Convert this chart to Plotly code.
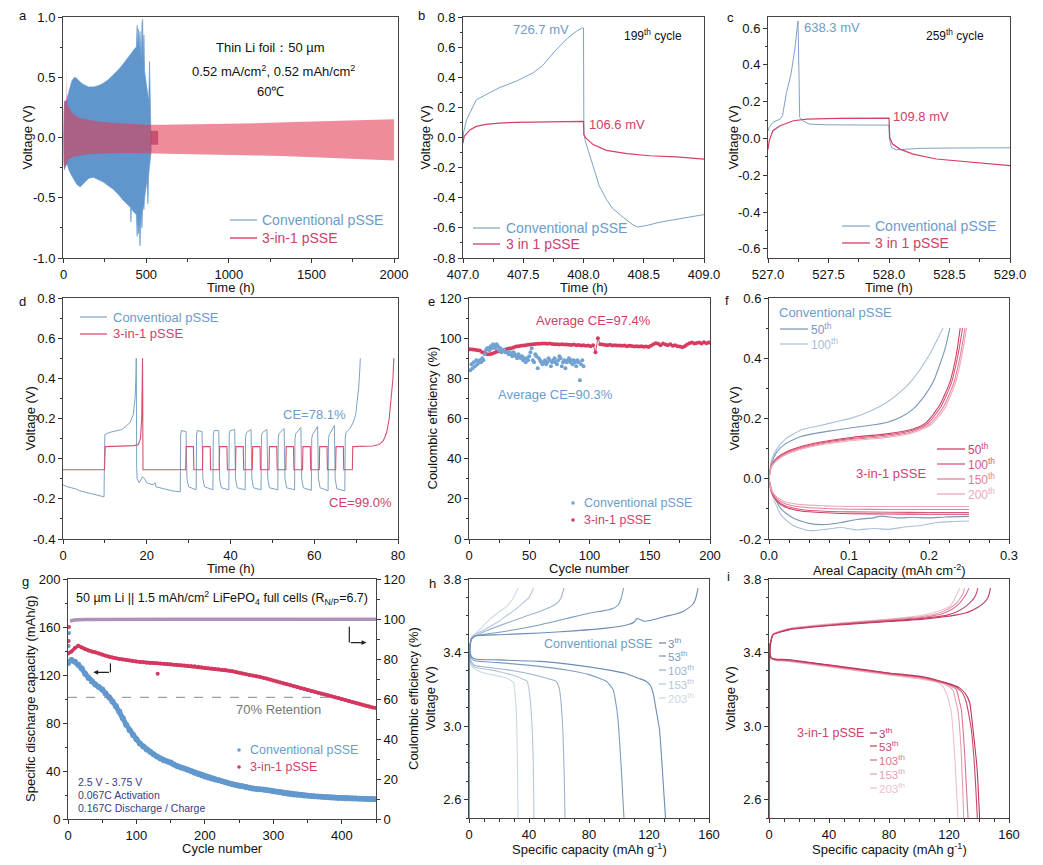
import plotly.graph_objects as go

W, H = 1043, 865
FONT = "Arial, 'Liberation Sans', Helvetica, sans-serif"

BLUE_TXT = "#6b9ccb"
RED_TXT = "#d1406a"
BLUE_LN = "#7ea2c8"
RED_LN = "#d43f66"

# ---------------- panel a : envelopes of voltage profiles ----------------
a_conv_t = [0, 2, 5, 10, 20, 35, 50, 65, 80, 100,
            120, 150, 180, 210, 240, 270, 300, 330, 360, 390,
            405, 407, 410, 425, 440, 445, 448, 452, 458, 462,
            466, 470, 474, 478, 482, 486, 490, 495, 500, 505,
            510, 515, 520, 524, 527, 530]
a_conv_hi = [0.0, 0.2, 0.3, 0.3, 0.32, 0.4, 0.47, 0.5, 0.49, 0.46,
             0.44, 0.42, 0.42, 0.43, 0.45, 0.48, 0.52, 0.56, 0.61, 0.66,
             0.69, 0.69, 0.7, 0.73, 0.75, 0.93, 0.72, 0.9, 0.73, 0.88,
             0.7, 0.65, 0.95, 0.98, 0.6, 0.85, 0.55, 0.5, 0.45, 0.4,
             0.35, 0.3, 0.63, 0.3, 0.2, 0.1]
a_conv_lo = [0.0, -0.2, -0.27, -0.24, -0.22, -0.28, -0.32, -0.36, -0.39, -0.41,
             -0.38, -0.34, -0.33, -0.35, -0.37, -0.4, -0.43, -0.47, -0.52, -0.56,
             -0.58, -0.7, -0.59, -0.62, -0.64, -0.82, -0.66, -0.8, -0.68, -0.9,
             -0.7, -0.6, -0.75, -0.6, -0.55, -0.6, -0.5, -0.45, -0.4, -0.35,
             -0.55, -0.3, -0.25, -0.2, -0.15, -0.1]
a_new_t = [0, 5, 14, 16, 18, 30, 60, 100, 150, 200, 300, 400, 500, 600, 800,
           1000, 1200, 1400, 1600, 1800, 2000]
a_new_hi = [0.22, 0.3, 0.3, 0.6, 0.3, 0.25, 0.19, 0.16, 0.145, 0.135, 0.12, 0.112,
            0.105, 0.105, 0.108, 0.112, 0.12, 0.128, 0.137, 0.145, 0.152]
a_new_lo = [-0.22, -0.26, -0.23, -0.22, -0.21, -0.18, -0.16, -0.15, -0.14, -0.135,
            -0.13, -0.128, -0.128, -0.132, -0.138, -0.144, -0.15, -0.158, -0.167,
            -0.178, -0.19]
a_dark_t = [525, 572]
a_dark_hi = [0.055, 0.055]
a_dark_lo = [-0.06, -0.06]

# ---------------- panel b ----------------
b_conv = [(407.0, -0.03), (407.004, 0.03), (407.03, 0.118), (407.11, 0.25), (407.19, 0.284),
          (407.3, 0.33), (407.44, 0.373), (407.58, 0.428), (407.66, 0.477), (407.77, 0.58),
          (407.86, 0.654), (407.94, 0.705), (407.99, 0.727), (408.0, 0.727), (408.003, 0.02),
          (408.02, -0.037), (408.08, -0.19), (408.13, -0.32), (408.19, -0.41), (408.24, -0.47),
          (408.33, -0.53), (408.41, -0.58), (408.45, -0.594), (408.52, -0.585), (408.63, -0.563),
          (408.77, -0.546), (408.88, -0.528), (409.0, -0.512)]
b_new = [(407.0, -0.037), (407.01, 0.008), (407.06, 0.052), (407.11, 0.074), (407.19, 0.087),
         (407.3, 0.096), (407.44, 0.1), (407.72, 0.104), (408.0, 0.1066), (408.003, 0.02),
         (408.02, -0.003), (408.08, -0.047), (408.19, -0.085), (408.36, -0.107),
         (408.55, -0.121), (408.77, -0.129), (409.0, -0.143)]

# ---------------- panel c ----------------
c_conv = [(527.0, 0.04), (527.01, 0.06), (527.04, 0.087), (527.1, 0.105), (527.12, 0.123),
          (527.15, 0.24), (527.19, 0.35), (527.22, 0.476), (527.24, 0.594), (527.248, 0.638),
          (527.256, 0.35), (527.262, 0.114), (527.29, 0.096), (527.34, 0.078), (527.48, 0.074),
          (528.0, 0.072), (528.003, 0.0), (528.02, -0.049), (528.06, -0.062), (528.14, -0.058),
          (528.26, -0.054), (528.53, -0.052), (529.0, -0.051)]
c_new = [(527.0, -0.06), (527.01, -0.013), (527.04, 0.042), (527.1, 0.069), (527.21, 0.096),
         (527.32, 0.105), (527.57, 0.109), (528.0, 0.1098), (528.006, 0.005), (528.03, -0.031),
         (528.09, -0.058), (528.2, -0.085), (528.39, -0.112), (528.67, -0.13), (529.0, -0.148)]

# ---------------- panel d ----------------
d_conv = [(0, -0.13), (1, -0.14), (2, -0.145), (3, -0.15), (4, -0.16), (5, -0.165), (6, -0.17),
          (7, -0.175), (8, -0.18), (9, -0.185), (9.8, -0.19), (9.9, 0.0), (10.0, 0.12), (11, 0.13),
          (12, 0.135), (13, 0.14), (14, 0.145), (15, 0.16), (16, 0.18), (16.8, 0.22), (17.2, 0.3),
          (17.4, 0.4), (17.5, 0.5), (17.6, -0.05), (17.7, -0.1), (18.2, -0.12), (19, -0.09),
          (19.5, -0.1), (20, -0.12), (21.5, -0.13), (22, -0.12), (22.2, -0.14), (24, -0.15),
          (26, -0.16), (28.0, -0.165),
          (28.1, 0.12), (28.3, 0.14), (29.4, 0.135), (29.5, 0.0), (29.6, -0.1), (30.0, -0.14), (31.8, -0.155),
          (31.9, 0.12), (32.1, 0.14), (33.2, 0.135), (33.3, 0.0), (33.4, -0.1), (33.8, -0.14), (35.8, -0.155),
          (35.9, 0.12), (36.1, 0.14), (37.2, 0.14), (37.3, 0.0), (37.4, -0.1), (37.8, -0.145), (39.6, -0.155),
          (39.7, 0.12), (39.9, 0.14), (41.0, 0.145), (41.1, 0.0), (41.2, -0.1), (41.6, -0.145), (43.5, -0.155),
          (43.6, 0.11), (43.8, 0.13), (44.9, 0.145), (45.0, 0.0), (45.1, -0.1), (45.5, -0.145), (47.3, -0.155),
          (47.4, 0.11), (47.6, 0.13), (48.7, 0.145), (48.8, 0.0), (48.9, -0.1), (49.3, -0.145), (51.3, -0.155),
          (51.4, 0.1), (51.6, 0.125), (52.8, 0.15), (52.9, 0.0), (53.0, -0.1), (53.4, -0.145), (55.3, -0.155),
          (55.4, 0.1), (55.6, 0.125), (56.8, 0.155), (56.9, 0.0), (57.0, -0.1), (57.4, -0.145), (59.3, -0.158),
          (59.4, 0.1), (59.6, 0.12), (60.8, 0.16), (60.9, 0.0), (61.0, -0.1), (61.4, -0.145), (63.3, -0.16),
          (63.4, 0.1), (63.6, 0.12), (64.8, 0.165), (64.9, 0.0), (65.0, -0.1), (65.4, -0.15), (67.3, -0.16),
          (67.4, 0.1), (67.6, 0.13), (68.5, 0.15), (69.3, 0.18), (69.9, 0.22), (70.3, 0.28), (70.6, 0.35),
          (70.9, 0.45), (71.0, 0.5)]
d_new = [(0, -0.055), (9.9, -0.055), (10.0, 0.0), (10.1, 0.06), (17.0, 0.065), (18.0, 0.07),
         (18.5, 0.1), (18.8, 0.2), (19.0, 0.5), (19.1, -0.055),
         (29.3, -0.055), (29.4, 0.06), (31.15, 0.06), (31.25, -0.055),
         (33.3, -0.055), (33.4, 0.06), (35.15, 0.06), (35.25, -0.055),
         (37.3, -0.055), (37.4, 0.06), (39.15, 0.06), (39.25, -0.055),
         (41.2, -0.055), (41.3, 0.06), (43.05, 0.06), (43.15, -0.055),
         (45.2, -0.055), (45.3, 0.06), (47.05, 0.06), (47.15, -0.055),
         (49.2, -0.055), (49.3, 0.06), (51.05, 0.06), (51.15, -0.055),
         (53.2, -0.055), (53.3, 0.06), (55.05, 0.06), (55.15, -0.055),
         (57.2, -0.055), (57.3, 0.06), (59.05, 0.06), (59.15, -0.055),
         (61.2, -0.055), (61.3, 0.06), (63.05, 0.06), (63.15, -0.055),
         (65.1, -0.055), (65.2, 0.06), (66.95, 0.06), (67.05, -0.055),
         (69.1, -0.055), (69.2, 0.06), (74.0, 0.063), (75.5, 0.07), (76.5, 0.09), (77.3, 0.13),
         (77.9, 0.2), (78.4, 0.3), (78.8, 0.4), (79.0, 0.5)]

# ---------------- panel e : coulombic efficiency ----------------
e_new_cycle = list(range(1, 200, 2))
e_new_ce = [94.5, 94.3, 94.2, 94.0, 93.8, 93.0, 92.5, 92.0, 92.0, 92.3,
            92.8, 93.2, 93.5, 93.8, 94.0, 94.5, 94.8, 95.0, 95.3, 95.8,
            96.0, 96.2, 96.4, 96.5, 96.7, 96.8, 97.0, 97.1, 97.2, 97.2,
            97.3, 97.3, 97.2, 97.3, 97.1, 97.0, 97.0, 96.9, 97.0, 96.8,
            96.9, 96.7, 96.6, 96.8, 96.5, 96.6, 96.4, 96.5, 96.2, 96.3,
            96.0, 96.5, 93.0, 100.0, 97.0, 96.8, 96.6, 96.5, 96.7, 96.4,
            96.5, 96.3, 96.4, 96.2, 96.3, 96.0, 96.2, 96.1, 95.9, 96.0,
            95.8, 96.0, 95.7, 95.9, 95.6, 96.2, 97.0, 97.5, 97.2, 96.5,
            97.3, 96.8, 96.5, 97.0, 96.2, 96.5, 96.0, 95.8, 95.5, 96.0,
            96.8, 97.5, 97.8, 97.4, 97.6, 97.8, 97.3, 98.0, 97.5, 97.8]
e_conv_cycle = list(range(1, 96))
e_conv_ce = [84, 87, 85, 88, 86, 89, 87, 88, 89, 88,
             90, 89, 92, 94, 95, 95, 94, 96, 95, 97,
             96, 95, 97, 96, 94, 95, 93, 94, 94, 93,
             93, 93, 92, 93, 92, 91, 93, 92, 91, 90,
             92, 91, 90, 91, 89, 90, 88, 90, 89, 91,
             93, 95, 89, 88, 92, 91, 85, 90, 89, 88,
             87, 88, 89, 87, 88, 90, 89, 86, 88, 89,
             90, 88, 87, 89, 91, 90, 86, 88, 89, 85,
             88, 89, 90, 88, 89, 87, 89, 88, 86, 89,
             88, 79, 87, 89, 86]

# ---------------- panel f : areal capacity curves ----------------
f_conv_up = [
    [(0, 0), (0.003, 0.05), (0.01, 0.09), (0.02, 0.115), (0.04, 0.14), (0.063, 0.153), (0.085, 0.162),
     (0.105, 0.17), (0.125, 0.177), (0.147, 0.187), (0.165, 0.205), (0.18, 0.231), (0.193, 0.27),
     (0.205, 0.32), (0.215, 0.39), (0.221, 0.44), (0.226, 0.5)],
    [(0, 0), (0.003, 0.06), (0.01, 0.1), (0.022, 0.135), (0.0425, 0.164), (0.063, 0.176), (0.085, 0.19),
     (0.105, 0.203), (0.127, 0.225), (0.147, 0.253), (0.165, 0.29), (0.18, 0.331), (0.2, 0.409),
     (0.21, 0.46), (0.2175, 0.5)]]
f_conv_dn = [
    [(0, 0), (0.005, -0.05), (0.015, -0.1), (0.03, -0.13), (0.05, -0.148), (0.07, -0.152), (0.09, -0.145),
     (0.11, -0.135), (0.13, -0.13), (0.14, -0.124), (0.16, -0.13), (0.18, -0.128), (0.2, -0.13),
     (0.22, -0.127), (0.25, -0.125)],
    [(0, 0), (0.005, -0.06), (0.015, -0.12), (0.03, -0.155), (0.05, -0.172), (0.07, -0.168),
     (0.09, -0.162), (0.11, -0.17), (0.13, -0.165), (0.15, -0.168), (0.17, -0.16), (0.19, -0.155),
     (0.21, -0.145), (0.23, -0.142), (0.25, -0.14)]]
f_new_up = [
    [(0, 0), (0.003, 0.045), (0.01, 0.07), (0.022, 0.09), (0.04, 0.107), (0.063, 0.121), (0.105, 0.138),
     (0.147, 0.149), (0.18, 0.165), (0.197, 0.188), (0.213, 0.243), (0.226, 0.32), (0.234, 0.41),
     (0.239, 0.5)],
    [(0, 0), (0.003, 0.043), (0.01, 0.067), (0.022, 0.087), (0.04, 0.104), (0.063, 0.118), (0.105, 0.134),
     (0.147, 0.145), (0.18, 0.161), (0.199, 0.185), (0.215, 0.24), (0.228, 0.318), (0.236, 0.408),
     (0.242, 0.5)],
    [(0, 0), (0.003, 0.041), (0.01, 0.064), (0.022, 0.084), (0.04, 0.101), (0.063, 0.115), (0.105, 0.131),
     (0.147, 0.141), (0.18, 0.157), (0.201, 0.182), (0.218, 0.238), (0.231, 0.318), (0.239, 0.408),
     (0.245, 0.5)],
    [(0, 0), (0.003, 0.039), (0.01, 0.061), (0.022, 0.081), (0.04, 0.098), (0.063, 0.112), (0.105, 0.127),
     (0.147, 0.137), (0.18, 0.153), (0.203, 0.18), (0.22, 0.236), (0.233, 0.318), (0.241, 0.408),
     (0.247, 0.5)]]
f_new_dn = [
    [(0, 0), (0.003, -0.045), (0.01, -0.075), (0.02, -0.094), (0.04, -0.107), (0.07, -0.113),
     (0.1, -0.116), (0.15, -0.117), (0.2, -0.118), (0.25, -0.118)],
    [(0, 0), (0.003, -0.043), (0.01, -0.072), (0.02, -0.09), (0.04, -0.102), (0.07, -0.108),
     (0.1, -0.11), (0.15, -0.111), (0.2, -0.112), (0.25, -0.112)],
    [(0, 0), (0.003, -0.04), (0.01, -0.066), (0.02, -0.083), (0.04, -0.094), (0.07, -0.099),
     (0.1, -0.101), (0.15, -0.102), (0.2, -0.102), (0.25, -0.102)],
    [(0, 0), (0.003, -0.037), (0.01, -0.061), (0.02, -0.076), (0.04, -0.086), (0.07, -0.09),
     (0.1, -0.092), (0.15, -0.092), (0.2, -0.092), (0.25, -0.092)]]
f_conv_labels = ["50<sup>th</sup>", "100<sup>th</sup>"]
f_new_labels = ["50<sup>th</sup>", "100<sup>th</sup>", "150<sup>th</sup>", "200<sup>th</sup>"]

# ---------------- panel g : full-cell cycling ----------------
g_cycle = list(range(0, 451, 5))
g_new_cap = [138, 139.5, 142.5, 144.4, 143, 141.5, 140.5, 139.6, 139, 138,
             137, 136, 135.3, 134.6, 134, 133.4, 132.9, 132.5, 132, 131.6,
             131.2, 130.9, 130.6, 130.3, 130.1, 129.9, 129.7, 129.6, 129.4, 129.1,
             128.9, 128.6, 128.4, 128.1, 127.9, 127.7, 127.5, 127.2, 126.8, 126.5,
             126.1, 125.7, 125.4, 125, 124.7, 124.4, 124.1, 123.6, 123.1, 122.4,
             121.8, 121.2, 120.6, 120, 119.5, 119, 118.6, 117.8, 117, 116.2,
             115.4, 114.6, 113.8, 113, 112.2, 111.4, 110.6, 109.8, 109, 108.3,
             107.5, 106.7, 106, 105.2, 104.4, 103.7, 103, 102.3, 101.5, 100.8,
             100, 99.2, 98.4, 97.6, 96.8, 96, 95.2, 94.4, 93.7, 93, 92.5]
g_conv_cap = [130, 132.5, 131, 128.5, 125.5, 121, 117.5, 114.5, 112, 110,
              108, 104.5, 101.5, 98, 94, 89.5, 84, 78.5, 74, 70,
              66.5, 63, 60.5, 58, 56, 54, 52, 50.5, 49, 48,
              47, 45.5, 44, 43, 42, 41, 39.8, 38.5, 37.5, 36.5,
              35.5, 34.6, 33.8, 33, 32.2, 31.4, 30.6, 29.8, 29, 28.4,
              27.8, 27.2, 26.6, 26, 25.5, 25.1, 24.8, 24.5, 24.2, 23.8,
              23.2, 22.7, 22.2, 21.7, 21.2, 20.8, 20.5, 20.2, 19.9, 19.6,
              19.3, 19.1, 18.9, 18.7, 18.5, 18.3, 18.1, 17.9, 17.8, 17.6,
              17.5, 17.3, 17.2, 17.1, 17, 16.9, 16.8, 16.7, 16.6, 16.6, 16.5]
g_new_outlier_cycle = [131]
g_new_outlier_cap = [121]
g_ce_cycle = [3, 10, 25, 50, 100, 150, 200, 250, 300, 350, 400, 450]
g_ce_conv = [99.2, 99.6, 99.7, 99.8, 99.8, 99.9, 99.9, 99.9, 99.8, 99.8, 99.8, 99.8]
g_ce_new = [99.0, 99.5, 99.7, 99.8, 99.9, 99.9, 99.9, 99.9, 99.9, 99.9, 99.9, 99.9]
g_ce_early_cycle = [1, 1.5]
g_ce_early_conv = [86.5, 93]
g_ce_early_new = [89, 96]

# ---------------- panels h, i : charge / discharge curves ----------------
hi_labels = ["3<sup>th</sup>", "53<sup>th</sup>", "103<sup>th</sup>", "153<sup>th</sup>", "203<sup>th</sup>"]
h_charge = [
    [(0, 2.5), (0.2, 3.3), (0.6, 3.42), (1.5, 3.47), (4, 3.49), (20, 3.497), (47, 3.506), (70, 3.518),
     (91.5, 3.533), (105, 3.55), (110, 3.565), (112, 3.585), (114, 3.58), (117, 3.57), (122.7, 3.578),
     (130, 3.595), (138, 3.61), (143, 3.625), (146, 3.64), (149, 3.66), (151, 3.69), (152.7, 3.75)],
    [(0, 2.5), (0.2, 3.3), (0.6, 3.42), (1.5, 3.47), (4, 3.49), (20, 3.51), (47, 3.55), (65, 3.585),
     (80, 3.614), (90, 3.628), (96, 3.64), (99.5, 3.66), (101.5, 3.695), (103, 3.75)],
    [(0, 2.5), (0.2, 3.3), (0.6, 3.42), (1.5, 3.475), (4, 3.49), (12, 3.52), (25, 3.56), (37, 3.595),
     (47, 3.623), (55, 3.65), (59, 3.67), (61.5, 3.7), (63.3, 3.75)],
    [(0, 2.5), (0.2, 3.3), (0.6, 3.42), (1.5, 3.48), (4, 3.5), (8, 3.515), (13.8, 3.54), (20, 3.57),
     (25, 3.6), (31, 3.635), (36, 3.67), (40, 3.7), (43, 3.75)],
    [(0, 2.5), (0.2, 3.3), (0.6, 3.42), (1.5, 3.48), (4, 3.5), (9, 3.54), (13.8, 3.58), (19, 3.615),
     (25, 3.65), (29, 3.69), (32.7, 3.75)]]
h_discharge = [
    [(0, 3.45), (0.5, 3.41), (1.5, 3.38), (4, 3.365), (20, 3.36), (47, 3.352), (70, 3.333), (91.5, 3.307),
     (105, 3.285), (113, 3.26), (118, 3.244), (121, 3.22), (122.7, 3.18), (124.5, 3.1), (127, 2.98),
     (129, 2.75), (131, 2.5)],
    [(0, 3.45), (0.5, 3.4), (1.5, 3.37), (4, 3.355), (20, 3.345), (47, 3.325), (65, 3.305), (80, 3.28),
     (91.5, 3.244), (96, 3.2), (98, 3.12), (99.3, 3.04), (101.3, 2.8), (103.3, 2.5)],
    [(0, 3.44), (0.5, 3.39), (1.5, 3.35), (4, 3.33), (12, 3.32), (25, 3.307), (37, 3.29), (47, 3.271),
     (54, 3.255), (58, 3.244), (60, 3.21), (61, 3.16), (62.7, 2.95), (63.5, 2.72), (64, 2.5)],
    [(0, 3.43), (0.5, 3.38), (1.5, 3.34), (4, 3.32), (13.8, 3.307), (23, 3.29), (31.5, 3.271),
     (36, 3.255), (38.7, 3.244), (40, 3.2), (41, 3.13), (42.7, 2.86), (43.3, 2.5)],
    [(0, 3.42), (0.5, 3.37), (1.5, 3.33), (4, 3.31), (9.3, 3.29), (18, 3.275), (25, 3.262),
     (28.5, 3.245), (29.8, 3.235), (30.8, 3.16), (31.5, 3.09), (32.2, 2.85), (32.7, 2.5)]]
i_charge = [
    [(0, 2.5), (0.2, 3.3), (0.6, 3.42), (1.5, 3.47), (2.7, 3.497), (13.8, 3.524), (47, 3.55), (80, 3.569),
     (102.7, 3.582), (118, 3.596), (125, 3.605), (131, 3.615), (136, 3.632), (141, 3.655), (145, 3.686),
     (146.7, 3.715), (147.6, 3.75)],
    [(0, 2.5), (0.2, 3.3), (0.6, 3.42), (1.5, 3.47), (2.7, 3.497), (13.8, 3.526), (47, 3.553), (80, 3.572),
     (102.7, 3.586), (118, 3.602), (126, 3.625), (131.6, 3.654), (135, 3.68), (137, 3.7), (138.4, 3.725),
     (139.3, 3.75)],
    [(0, 2.5), (0.2, 3.3), (0.6, 3.42), (1.5, 3.47), (2.7, 3.498), (13.8, 3.528), (47, 3.556), (80, 3.576),
     (102.7, 3.592), (115, 3.61), (122, 3.635), (127, 3.668), (130, 3.7), (131.6, 3.72), (133.3, 3.75)],
    [(0, 2.5), (0.2, 3.3), (0.6, 3.42), (1.5, 3.47), (2.7, 3.5), (13.8, 3.53), (47, 3.558), (80, 3.58),
     (102.7, 3.597), (113, 3.615), (120, 3.64), (125, 3.668), (127.5, 3.695), (129.3, 3.72), (130.4, 3.75)],
    [(0, 2.5), (0.2, 3.3), (0.6, 3.42), (1.5, 3.47), (2.7, 3.5), (13.8, 3.532), (47, 3.56), (80, 3.582),
     (100, 3.6), (110, 3.618), (116, 3.635), (120.4, 3.65), (123, 3.68), (125, 3.713), (127.1, 3.75)]]
i_discharge = [
    [(0, 3.45), (0.5, 3.4), (1.5, 3.37), (4, 3.365), (13.8, 3.361), (47, 3.325), (80, 3.289),
     (102.7, 3.268), (118.2, 3.235), (127, 3.208), (131, 3.175), (133.8, 3.127), (136, 2.98),
     (138.7, 2.77), (140.4, 2.5)],
    [(0, 3.45), (0.5, 3.4), (1.5, 3.37), (4, 3.363), (13.8, 3.359), (47, 3.323), (80, 3.287),
     (102.7, 3.266), (118.2, 3.233), (125, 3.21), (129, 3.18), (131.6, 3.127), (134.9, 2.98),
     (137.1, 2.77), (138.9, 2.5)],
    [(0, 3.45), (0.5, 3.4), (1.5, 3.37), (4, 3.361), (13.8, 3.356), (47, 3.32), (80, 3.284),
     (102.7, 3.262), (118.2, 3.23), (122, 3.215), (124.9, 3.2), (126.5, 3.15), (128.2, 3.09),
     (130.4, 2.856), (132.7, 2.5)],
    [(0, 3.45), (0.5, 3.4), (1.5, 3.37), (4, 3.359), (13.8, 3.353), (47, 3.317), (80, 3.281),
     (102.7, 3.258), (116, 3.232), (120, 3.215), (122.7, 3.195), (124.4, 3.14), (126, 3.08),
     (128.2, 2.85), (129.8, 2.5)],
    [(0, 3.45), (0.5, 3.4), (1.5, 3.37), (4, 3.357), (13.8, 3.35), (47, 3.314), (80, 3.278),
     (100, 3.256), (112, 3.238), (116, 3.215), (118.2, 3.18), (120, 3.13), (121.6, 3.07),
     (123.8, 2.84), (126, 2.5)]]
h_colors = ["#6b8db6", "#7d9cc1", "#9cb4d0", "#b6c7dc", "#cdd8e6"]
i_colors = ["#c2355c", "#c9496c", "#d9788f", "#e6a0b1", "#efc0cb"]

# ======================================================================
fig = go.Figure()
shapes, annotations = [], []


def P(x, y):
    return x / W, 1 - y / H


def text_px(x, y, text, color="#111", size=13, xanchor="left", angle=0):
    xx, yy = P(x, y)
    annotations.append(dict(x=xx, y=yy, xref="paper", yref="paper", text=text, showarrow=False,
                            xanchor=xanchor, yanchor="middle", textangle=angle, borderpad=0,
                            font=dict(family=FONT, size=size, color=color)))


def line_px(x0, x1, y, color, width=1.2):
    a0, b0 = P(x0, y)
    a1, _ = P(x1, y)
    shapes.append(dict(type="line", xref="paper", yref="paper", x0=a0, x1=a1, y0=b0, y1=b0,
                       line=dict(color=color, width=width)))


def dot_px(cx, cy, r, color):
    shapes.append(dict(type="circle", xref="paper", yref="paper", x0=(cx - r) / W, x1=(cx + r) / W,
                       y0=1 - (cy + r) / H, y1=1 - (cy - r) / H, fillcolor=color, line=dict(width=0)))


def tk(lo, hi, step, nd):
    n = int(round((hi - lo) / step))
    vals = [round(lo + i * step, 6) for i in range(n + 1)]
    txt = [f"{(0.0 if abs(v) < 1e-9 else v):.{nd}f}" for v in vals]
    return vals, txt


def axis(dom_px, rng, ticks, minor, horizontal=True, **extra):
    if horizontal:
        dom = [dom_px[0] / W, dom_px[1] / W]
    else:
        dom = [1 - dom_px[1] / H, 1 - dom_px[0] / H]
    d = dict(domain=dom, range=rng, tickmode="array", tickvals=ticks[0], ticktext=ticks[1],
             ticks="outside", ticklen=4, tickwidth=1, tickcolor="#333", automargin=False,
             minor=dict(dtick=minor, tick0=0, ticks="outside", ticklen=2.5, tickcolor="#333"),
             showline=True, linecolor="#444", linewidth=1, mirror=True, showgrid=False,
             zeroline=False, tickfont=dict(family=FONT, size=13, color="#111"))
    d.update(extra)
    return d


layout = {}
panels = [
    # n, xpx, ypx, xrange, yrange, xticks, yticks, xminor, yminor, xtitle, ytitle, ytitle_x
    (1, (63, 398), (17, 258), [-4, 2024], [-1, 1], tk(0, 2000, 500, 0), tk(-1, 1, 0.5, 1), 250, 0.25,
     "Time (h)", "Voltage (V)", 27),
    (2, (463, 704), (17, 258), [407, 409], [-0.8, 0.8], tk(407, 409, 0.5, 1), tk(-0.8, 0.8, 0.2, 1), 0.25, 0.1,
     "Time (h)", "Voltage (V)", 425),
    (3, (768, 1010), (17, 258), [527, 529], [-0.65, 0.66], tk(527, 529, 0.5, 1), tk(-0.6, 0.6, 0.2, 1), 0.25,
     0.1, "Time (h)", "Voltage (V)", 733),
    (4, (63, 398), (298, 539), [0, 80], [-0.4, 0.8], tk(0, 80, 20, 0), tk(-0.4, 0.8, 0.2, 1), 10, 0.1,
     "Time (h)", "Voltage (V)", 30),
    (5, (469, 710), (298, 539), [0, 200], [0, 120], tk(0, 200, 50, 0), tk(0, 120, 20, 0), 25, 10,
     "Cycle number", "Coulombic efficiency (%)", 432),
    (6, (769, 1009), (298, 539), [0, 0.3], [-0.2, 0.6], tk(0, 0.3, 0.1, 1), tk(-0.2, 0.6, 0.2, 1), 0.025, 0.1,
     "Areal Capacity (mAh cm<sup>-2</sup>)", "Voltage (V)", 734),
    (7, (68, 376), (579, 819), [0, 450], [0, 200], tk(0, 400, 100, 0), tk(0, 200, 40, 0), 50, 20,
     "Cycle number", "Specific discharge capacity (mAh/g)", 30),
    (8, (469, 709), (579, 818), [0, 160], [2.5, 3.8], tk(0, 160, 40, 0), tk(2.6, 3.8, 0.4, 1), 10, 0.1,
     "Specific capacity (mAh g<sup>-1</sup>)", "Voltage (V)", 430),
    (9, (769, 1009), (579, 818), [0, 160], [2.5, 3.8], tk(0, 160, 40, 0), tk(2.6, 3.8, 0.4, 1), 10, 0.1,
     "Specific capacity (mAh g<sup>-1</sup>)", "Voltage (V)", 730),
]
for n, xpx, ypx, xr, yr, xt, yt, xm, ym, xtitle, ytitle, ytx in panels:
    k = "" if n == 1 else str(n)
    layout["xaxis" + k] = axis(xpx, xr, xt, xm, True, anchor="y" + k)
    layout["yaxis" + k] = axis(ypx, yr, yt, ym, False, anchor="x" + k)
    # axis titles as positioned text
    off = 31 if "<sup>" in xtitle else 29
    text_px((xpx[0] + xpx[1]) / 2, ypx[1] + off, xtitle, "#111", 13, "center")
    text_px(ytx, (ypx[0] + ypx[1]) / 2, ytitle, "#111", 13, "center", angle=-90)

# right axis for panel g
layout["yaxis10"] = axis((579, 819), [0, 120], tk(0, 120, 20, 0), 10, False,
                         overlaying="y7", side="right", anchor="x7", mirror=False)
text_px(413, 699, "Coulombic efficiency (%)", "#111", 13, "center", angle=-90)


def xy(pairs):
    return [p[0] for p in pairs], [p[1] for p in pairs]


# ---- a
fig.add_trace(go.Scatter(x=a_conv_t + a_conv_t[::-1], y=a_conv_hi + a_conv_lo[::-1], fill="toself",
                         fillcolor="#6096cb", line=dict(color="#6096cb", width=0.6), mode="lines",
                         xaxis="x", yaxis="y", hoverinfo="skip"))
fig.add_trace(go.Scatter(x=a_new_t + a_new_t[::-1], y=a_new_hi + a_new_lo[::-1], fill="toself",
                         fillcolor="rgba(226,57,84,0.58)", line=dict(width=0), mode="lines",
                         xaxis="x", yaxis="y", hoverinfo="skip"))
fig.add_trace(go.Scatter(x=a_dark_t + a_dark_t[::-1], y=a_dark_hi + a_dark_lo[::-1], fill="toself",
                         fillcolor="rgba(190,60,100,0.75)", line=dict(width=0), mode="lines",
                         xaxis="x", yaxis="y", hoverinfo="skip"))

# ---- b, c
for data, col, w, ax in [(b_conv, BLUE_LN, 1.0, "2"), (b_new, RED_LN, 1.2, "2"),
                         (c_conv, BLUE_LN, 1.0, "3"), (c_new, RED_LN, 1.2, "3")]:
    x, y = xy(data)
    fig.add_trace(go.Scatter(x=x, y=y, mode="lines", line=dict(color=col, width=w),
                             xaxis="x" + ax, yaxis="y" + ax))

# ---- d
x, y = xy(d_conv)
fig.add_trace(go.Scatter(x=x, y=y, mode="lines", line=dict(color="#7ea2c5", width=1), xaxis="x4", yaxis="y4"))
x, y = xy(d_new)
fig.add_trace(go.Scatter(x=x, y=y, mode="lines", line=dict(color="#d9506f", width=1.1), xaxis="x4", yaxis="y4"))

# ---- e
fig.add_trace(go.Scatter(x=e_new_cycle, y=e_new_ce, mode="lines+markers",
                         line=dict(color="#dc4c6c", width=1), marker=dict(color="#d93a60", size=4),
                         xaxis="x5", yaxis="y5"))
fig.add_trace(go.Scatter(x=e_conv_cycle, y=e_conv_ce, mode="markers",
                         marker=dict(color="#72a2d2", size=4), xaxis="x5", yaxis="y5"))

# ---- f
f_conv_cols = ["#7c97b8", "#a9c0d8"]
f_new_cols = ["#d03f64", "#d9587a", "#e48098", "#eea8b8"]
for grp, cols in [(f_conv_up, f_conv_cols), (f_conv_dn, f_conv_cols), (f_new_up, f_new_cols),
                  (f_new_dn, f_new_cols)]:
    for data, col in zip(grp, cols):
        x, y = xy(data)
        fig.add_trace(go.Scatter(x=x, y=y, mode="lines", line=dict(color=col, width=1.1, shape="spline",
                                                                   smoothing=0.6),
                                 xaxis="x6", yaxis="y6"))

# ---- g
fig.add_trace(go.Scatter(x=g_ce_cycle, y=g_ce_new, mode="lines", line=dict(color="#c790ad", width=3.5),
                         xaxis="x7", yaxis="y10"))
fig.add_trace(go.Scatter(x=g_ce_cycle, y=g_ce_conv, mode="lines",
                         line=dict(color="rgba(140,150,205,0.55)", width=2.5), xaxis="x7", yaxis="y10"))
fig.add_trace(go.Scatter(x=g_ce_early_cycle, y=g_ce_early_new, mode="markers",
                         marker=dict(color="#d6456a", size=4), xaxis="x7", yaxis="y10"))
fig.add_trace(go.Scatter(x=g_ce_early_cycle, y=g_ce_early_conv, mode="markers",
                         marker=dict(color="#6a9ccf", size=4), xaxis="x7", yaxis="y10"))
fig.add_trace(go.Scatter(x=g_cycle, y=g_conv_cap, mode="lines+markers",
                         line=dict(color="#6198cd", width=5), marker=dict(color="#6198cd", size=6),
                         xaxis="x7", yaxis="y7"))
fig.add_trace(go.Scatter(x=g_cycle, y=g_new_cap, mode="lines+markers",
                         line=dict(color="#d4385f", width=3.5), marker=dict(color="#d4385f", size=4),
                         xaxis="x7", yaxis="y7"))
fig.add_trace(go.Scatter(x=g_new_outlier_cycle, y=g_new_outlier_cap, mode="markers",
                         marker=dict(color="#d4385f", size=4), xaxis="x7", yaxis="y7"))
# 70 % retention line and arrows
shapes.append(dict(type="line", xref="x7", yref="y7", x0=0, x1=395, y0=101.4, y1=101.4,
                   line=dict(color="#888", width=1, dash="dash")))
shapes.append(dict(type="line", xref="x7", yref="y7", x0=62, x1=62, y0=129.7, y1=122.2,
                   line=dict(color="#222", width=1.2)))
shapes.append(dict(type="line", xref="x7", yref="y7", x0=411, x1=411, y0=160.3, y1=147,
                   line=dict(color="#222", width=1.2)))
annotations.append(dict(x=37, y=122.2, ax=62, ay=122.2, xref="x7", yref="y7", axref="x7", ayref="y7",
                        showarrow=True, arrowhead=2, arrowsize=0.8, arrowwidth=1.2, arrowcolor="#222",
                        text=""))
annotations.append(dict(x=436, y=147, ax=411, ay=147, xref="x7", yref="y7", axref="x7", ayref="y7",
                        showarrow=True, arrowhead=2, arrowsize=0.8, arrowwidth=1.2, arrowcolor="#222",
                        text=""))

# ---- h, i
for charges, discharges, cols, ax in [(h_charge, h_discharge, h_colors, "8"),
                                      (i_charge, i_discharge, i_colors, "9")]:
    for k in range(len(cols) - 1, -1, -1):
        for data in (charges[k], discharges[k]):
            x, y = xy(data)
            fig.add_trace(go.Scatter(x=x, y=y, mode="lines",
                                     line=dict(color=cols[k], width=1.1, shape="spline", smoothing=0.5),
                                     xaxis="x" + ax, yaxis="y" + ax))

# ---------------- texts ----------------
for lab, x, y in [("a", 23, 15), ("b", 421, 15), ("c", 730, 17), ("d", 22, 301), ("e", 431, 301),
                  ("f", 727, 300), ("g", 25, 581), ("h", 432, 583), ("i", 728, 576)]:
    text_px(x, y, lab, size=13, xanchor="center")

# a
text_px(270, 48, "Thin Li foil：50 µm", xanchor="center")
text_px(273, 71, "0.52 mA/cm<sup>2</sup>, 0.52 mAh/cm<sup>2</sup>", xanchor="center")
text_px(270, 92, "60℃", xanchor="center")
line_px(230, 257, 220, BLUE_LN, 1.2)
text_px(261, 220, "Conventional pSSE", BLUE_TXT, 14)
line_px(230, 257, 238, RED_LN, 1.4)
text_px(261, 238, "3-in-1 pSSE", RED_TXT, 14)
# b
text_px(541, 29, "726.7 mV", BLUE_TXT, 13, "center")
text_px(653, 35, "199<sup>th</sup> cycle", "#111", 12, "center")
text_px(588, 124, "106.6 mV", RED_TXT, 13)
line_px(473, 500, 228, BLUE_LN)
text_px(505, 228, "Conventional pSSE", BLUE_TXT, 14)
line_px(473, 500, 244, RED_LN, 1.3)
text_px(505, 244, "3 in 1 pSSE", RED_TXT, 14)
# c
text_px(803, 28, "638.3 mV", BLUE_TXT, 13)
text_px(955, 35, "259<sup>th</sup> cycle", "#111", 12, "center")
text_px(892, 117, "109.8 mV", RED_TXT, 13)
line_px(842, 870, 226, BLUE_LN)
text_px(874, 226, "Conventional pSSE", BLUE_TXT, 14)
line_px(842, 870, 243, RED_LN, 1.3)
text_px(874, 243, "3 in 1 pSSE", RED_TXT, 14)
# d
line_px(80, 107, 317, "#7ea2c5")
text_px(112, 317, "Conventioal pSSE", BLUE_TXT, 13)
line_px(80, 107, 334, "#d9506f", 1.3)
text_px(112, 334, "3-in-1 pSSE", RED_TXT, 13)
text_px(314, 415, "CE=78.1%", BLUE_TXT, 13, "center")
text_px(360, 502, "CE=99.0%", RED_TXT, 13, "center")
# e
text_px(593, 320, "Average CE=97.4%", RED_TXT, 13, "center")
text_px(555, 395, "Average CE=90.3%", BLUE_TXT, 13, "center")
dot_px(573, 503, 1.8, "#72a2d2")
text_px(583, 503, "Conventional pSSE", BLUE_TXT, 12.5)
dot_px(573, 520, 1.8, "#d93a60")
text_px(583, 520, "3-in-1 pSSE", RED_TXT, 12.5)
# f
text_px(778, 312, "Conventional pSSE", BLUE_TXT, 13)
for k, yy in enumerate([329, 344]):
    line_px(780, 808, yy, f_conv_cols[k])
    text_px(810, yy, f_conv_labels[k], f_conv_cols[k], 12)
text_px(891, 473, "3-in-1 pSSE", RED_TXT, 13, "center")
for k, yy in enumerate([449, 464, 479, 494]):
    line_px(937, 965, yy, f_new_cols[k], 1.3)
    text_px(967, yy, f_new_labels[k], f_new_cols[k], 12)
# g
text_px(222, 598, "50 µm Li || 1.5 mAh/cm<sup>2</sup> LiFePO<sub>4</sub> full cells (R<sub>N/P</sub>=6.7)",
        "#111", 12.5, "center")
text_px(278, 709, "70% Retention", "#777", 13, "center")
dot_px(239, 750, 1.8, "#6a9ccf")
text_px(249, 750, "Conventional pSSE", BLUE_TXT, 12.5)
dot_px(239, 767, 1.8, "#d4385f")
text_px(249, 767, "3-in-1 pSSE", RED_TXT, 12.5)
for yy, t in [(782, "2.5 V - 3.75 V"), (795, "0.067C Activation"), (808, "0.167C Discharge / Charge")]:
    text_px(77, yy, t, "#373c86", 10.5)
# h
text_px(653, 644, "Conventional pSSE", BLUE_TXT, 12.5, "right")
for k, yy in enumerate([643, 656, 670, 684, 698]):
    line_px(659, 666, yy, h_colors[k], 1.3)
    text_px(667, yy, hi_labels[k], h_colors[k], 11.5)
# i
text_px(865, 733, "3-in-1 pSSE", RED_TXT, 12.5, "right")
for k, yy in enumerate([733, 746, 760, 774, 788]):
    line_px(870, 877, yy, i_colors[k], 1.3)
    text_px(878, yy, hi_labels[k], i_colors[k], 11.5)

fig.update_layout(width=W, height=H, margin=dict(l=0, r=0, t=0, b=0), autosize=False,
                  paper_bgcolor="white", plot_bgcolor="white", showlegend=False,
                  font=dict(family=FONT, size=13, color="#111"),
                  shapes=shapes, annotations=annotations, **layout)

fig.write_html("out.html", config={"displayModeBar": False},
               post_script="document.body.style.margin='0px';document.body.style.overflow='hidden';")
